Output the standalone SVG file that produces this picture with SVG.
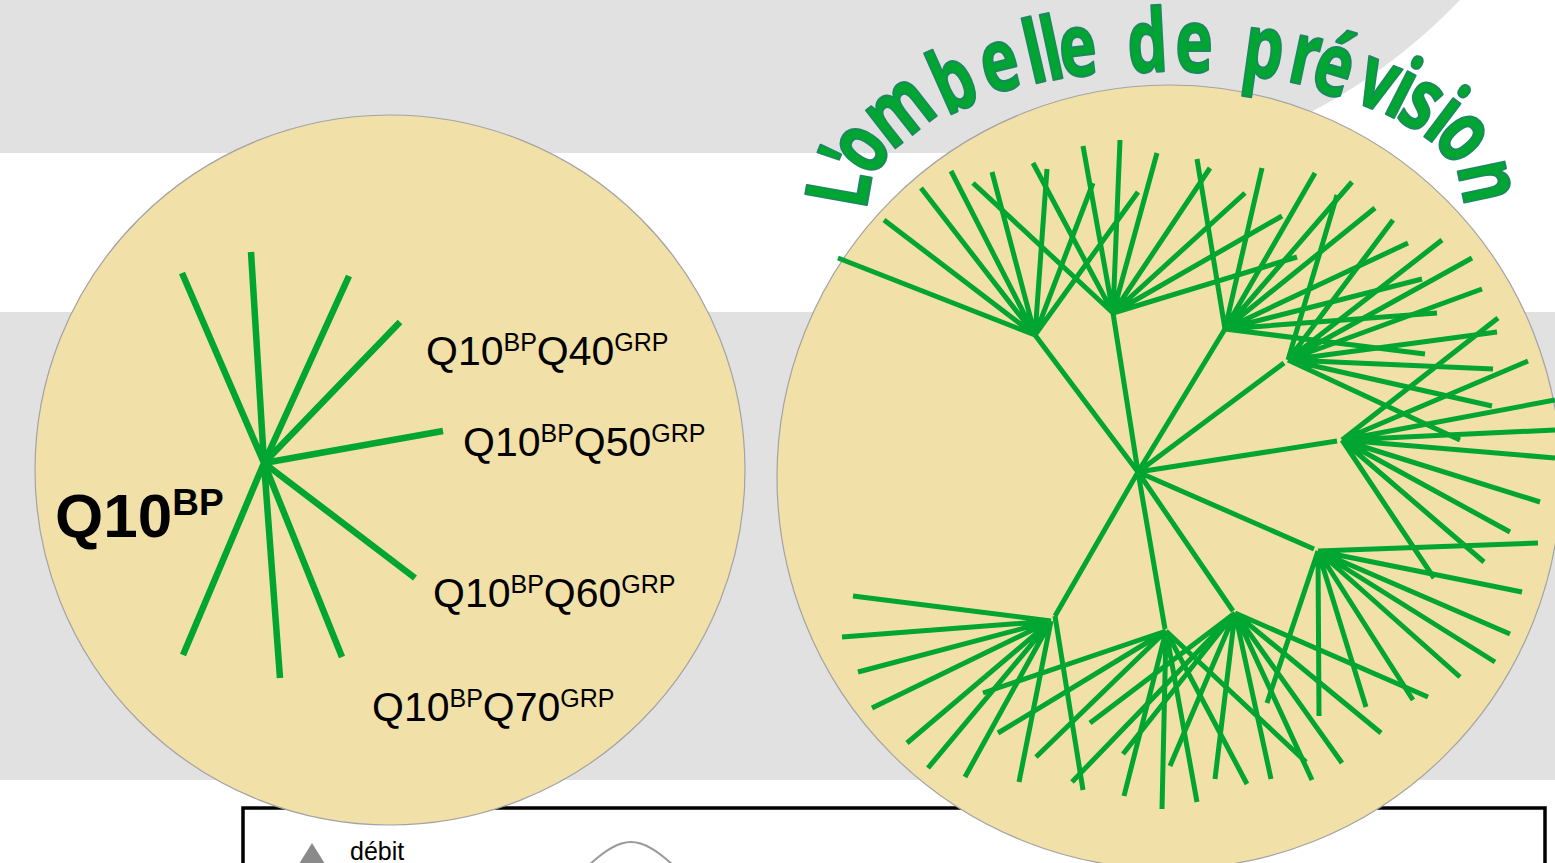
<svg xmlns="http://www.w3.org/2000/svg" width="1555" height="863" viewBox="0 0 1555 863">
<style>
.band{fill:#e1e1e1}
.disc{fill:#f2e0a9;stroke:#a3a3a3;stroke-width:1.2}
.ray{fill:none;stroke:#00a532;stroke-width:5}
.lray{fill:none;stroke:#00a532;stroke-width:6.5}
.lbl{font-family:"Liberation Sans",Arial,sans-serif;fill:#000}
.t{font-family:"Open Sans","DejaVu Sans",sans-serif;font-weight:700;font-size:59px;fill:#00a532;stroke:#1a8a5e;stroke-width:1.5;stroke-linejoin:round;text-anchor:middle}
</style>
<rect width="1555" height="863" fill="#fff"/>
<g id="background">
<path class="band" d="M0,0 H1460 A576,576 0 0 1 1211,153 H0 Z"/>
<rect class="band" x="0" y="312" width="1555" height="468"/>
</g>
<g id="legend">
<rect x="243" y="808" width="1302" height="80" fill="#fff" stroke="#000" stroke-width="3.5"/>
<polygon points="299,864 325,864 312,843" fill="#8a8a8a"/>
<text class="lbl" x="350" y="860" font-size="25">débit</text>
<path d="M588,866 C605,850 618,842 631,842 C644,842 657,850 674,866" fill="none" stroke="#9a9a9a" stroke-width="2"/>
</g>
<g id="left-umbel">
<circle class="disc" cx="390" cy="470" r="355"/>
<g id="left-rays">
<path class="lray" d="M264,463 L182,273 M264,463 L251,252 M264,463 L349,276 M264,463 L400,322 M264,463 L342,657 M264,463 L280,678 M264,463 L183,655"/>
<path class="lray" stroke-width="7.5" d="M264,463 L443,431 M264,463 L415,578"/>
</g>
<text class="lbl" font-weight="700" font-size="62" x="55" y="537">Q10<tspan font-size="37" dy="-22">BP</tspan></text>
<text class="lbl" font-size="41" x="426" y="365">Q10<tspan font-size="25" dy="-14">BP</tspan><tspan dy="14">Q40</tspan><tspan font-size="25" dy="-14">GRP</tspan></text>
<text class="lbl" font-size="41" x="463" y="456">Q10<tspan font-size="25" dy="-14">BP</tspan><tspan dy="14">Q50</tspan><tspan font-size="25" dy="-14">GRP</tspan></text>
<text class="lbl" font-size="41" x="433" y="607">Q10<tspan font-size="25" dy="-14">BP</tspan><tspan dy="14">Q60</tspan><tspan font-size="25" dy="-14">GRP</tspan></text>
<text class="lbl" font-size="41" x="372" y="721">Q10<tspan font-size="25" dy="-14">BP</tspan><tspan dy="14">Q70</tspan><tspan font-size="25" dy="-14">GRP</tspan></text>
</g>
<g id="right-umbel">
<circle class="disc" cx="1169" cy="477" r="392"/>
<g id="connectors">
<path class="ray" d="M1138,472 L1035,335 M1138,472 L1113,313 M1138,472 L1225,329 M1138,472 L1284,363 M1138,472 L1337,441 M1138,472 L1314,549 M1138,472 L1233,611 M1138,472 L1165,629 M1138,472 L1055,616"/>
<path class="ray" d="M1035,335 L838,258 M1035,335 L884,220 M1035,335 L921,188 M1035,335 L951,171 M1035,335 L992,172 M1035,335 L1047,169 M1035,335 L1093,183 M1035,335 L1138,192"/>
<path class="ray" d="M1113,313 L973,183 M1113,313 L1033,163 M1113,313 L1083,146 M1113,313 L1120,140 M1113,313 L1157,153 M1113,313 L1210,168 M1113,313 L1245,193 M1113,313 L1282,216 M1113,313 L1297,257"/>
<path class="ray" d="M1225,329 L1197,159 M1225,329 L1262,168 M1225,329 L1315,173 M1225,329 L1352,182 M1225,329 L1375,208 M1225,329 L1408,243 M1225,329 L1422,279 M1225,329 L1437,313 M1225,329 L1425,354"/>
<path class="ray" d="M1288,360 L1337,195 M1288,360 L1393,220 M1288,360 L1442,240 M1288,360 L1472,258 M1288,360 L1482,289 M1288,360 L1497,332 M1288,360 L1493,369 M1288,360 L1492,406 M1288,360 L1460,440"/>
<path class="ray" d="M1342,440 L1498,318 M1342,440 L1528,361 M1342,440 L1555,400 M1342,440 L1555,430 M1342,440 L1555,458 M1342,440 L1540,502 M1342,440 L1510,532 M1342,440 L1484,562 M1342,440 L1434,578"/>
<path class="ray" d="M1318,551 L1538,543 M1318,551 L1522,592 M1318,551 L1510,634 M1318,551 L1495,662 M1318,551 L1460,677 M1318,551 L1413,700 M1318,551 L1366,707 M1318,551 L1319,716 M1318,551 L1267,703"/>
<path class="ray" d="M1235,613 L1072,782 M1235,613 L1090,723 M1235,613 L1123,754 M1235,613 L1170,766 M1235,613 L1215,779 M1235,613 L1271,779 M1235,613 L1312,780 M1235,613 L1342,763 M1235,613 L1381,733 M1235,613 L1428,697"/>
<path class="ray" d="M1166,631 L983,693 M1166,631 L998,733 M1166,631 L1036,757 M1166,631 L1124,796 M1166,631 L1162,809 M1166,631 L1197,802 M1166,631 L1247,784 M1166,631 L1306,762"/>
<path class="ray" d="M1051,621 L853,596 M1051,621 L842,637 M1051,621 L858,672 M1051,621 L872,708 M1051,621 L907,743 M1051,621 L928,768 M1051,621 L965,777 M1051,621 L1019,782 M1055,616 L1083,790"/>
</g>
</g>
<g id="title">
<text class="t" transform="translate(869,193) rotate(-80) scale(1.08,1.48)">L</text>
<text class="t" transform="translate(877,172) rotate(-68) scale(1.08,1.48)">'</text>
<text class="t" transform="translate(883,163) rotate(-55) scale(1.08,1.48)">o</text>
<text class="t" transform="translate(916,132) rotate(-38) scale(1.08,1.48)">m</text>
<text class="t" transform="translate(965,108) rotate(-24) scale(1.08,1.48)">b</text>
<text class="t" transform="translate(1006,90) rotate(-14) scale(1.08,1.48)">e</text>
<text class="t" transform="translate(1041,82) rotate(-13) scale(1.08,1.48)">l</text>
<text class="t" transform="translate(1058,79) rotate(-12) scale(1.08,1.48)">l</text>
<text class="t" transform="translate(1081,76) rotate(-7) scale(1.08,1.48)">e</text>
<text class="t" transform="translate(1149,72) rotate(-3) scale(1.08,1.48)">d</text>
<text class="t" transform="translate(1194,72) rotate(0) scale(1.08,1.48)">e</text>
<text class="t" transform="translate(1260,77) rotate(8) scale(1.08,1.48)">p</text>
<text class="t" transform="translate(1300,84) rotate(12) scale(1.08,1.48)">r</text>
<text class="t" transform="translate(1326,94) rotate(17) scale(1.08,1.48)">é</text>
<text class="t" transform="translate(1368,107) rotate(22) scale(1.08,1.48)">v</text>
<text class="t" transform="translate(1390,116) rotate(27) scale(1.08,1.48)">i</text>
<text class="t" transform="translate(1408,126) rotate(32) scale(1.08,1.48)">s</text>
<text class="t" transform="translate(1428,139) rotate(37) scale(1.08,1.48)">i</text>
<text class="t" transform="translate(1444,154) rotate(48) scale(1.08,1.48)">o</text>
<text class="t" transform="translate(1461,187) rotate(78) scale(1.08,1.48)">n</text>
</g>
</svg>
